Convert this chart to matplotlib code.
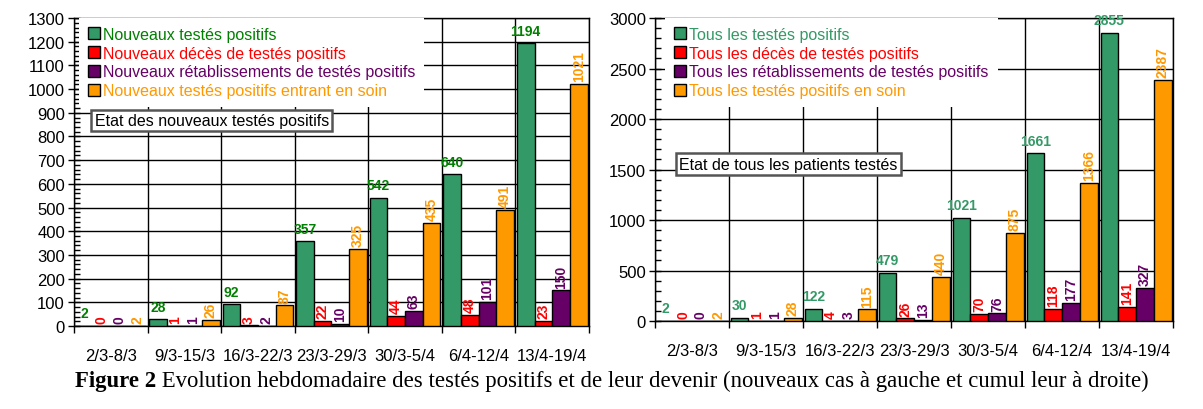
import matplotlib
matplotlib.use("Agg")
import matplotlib.pyplot as plt
import numpy as np
from matplotlib.ticker import MultipleLocator, FixedLocator

# Semaines
semaines = ["2/3-8/3", "9/3-15/3", "16/3-22/3", "23/3-29/3", "30/3-5/4", "6/4-12/4", "13/4-19/4"]

# Nouveaux cas (gauche)
nouv_positifs = [2, 28, 92, 357, 542, 640, 1194]
nouv_deces = [0, 1, 3, 22, 44, 48, 23]
nouv_retablis = [0, 1, 2, 10, 63, 101, 150]
nouv_soin = [2, 26, 87, 325, 435, 491, 1021]

# Cumul (droite)
tous_positifs = [2, 30, 122, 479, 1021, 1661, 2855]
tous_deces = [0, 1, 4, 26, 70, 118, 141]
tous_retablis = [0, 1, 3, 13, 76, 177, 327]
tous_soin = [2, 28, 115, 440, 875, 1366, 2387]

noms_gauche = ["Nouveaux testés positifs", "Nouveaux décès de testés positifs",
               "Nouveaux rétablissements de testés positifs",
               "Nouveaux testés positifs entrant en soin"]
noms_droite = ["Tous les testés positifs", "Tous les décès de testés positifs",
               "Tous les rétablissements de testés positifs",
               "Tous les testés positifs en soin"]

couleurs = ["#339966", "#FF0000", "#660066", "#FF9900"]

plt.rcParams['font.family'] = ['Liberation Sans']
NARROW = ['Liberation Sans Narrow', 'Liberation Sans']

fig = plt.figure(figsize=(12.03, 4.10), dpi=100)
ax1 = fig.add_axes([0.0615, 0.2024, 0.4281, 0.7512])
ax2 = fig.add_axes([0.5445, 0.2146, 0.4306, 0.739])


def tracer(ax, series, noms, couleurs_txt, ymax, major, minor, titre, pos_titre, leg_x):
    x = np.arange(len(semaines))
    w = 0.24
    for i, (vals, nom) in enumerate(zip(series, noms)):
        xs = x + (i - 1.5) * w
        ax.bar(xs, vals, width=w, color=couleurs[i], edgecolor='black',
               linewidth=1, label=nom, zorder=3)
        for xi, v in zip(xs, vals):
            if i == 0:
                ax.annotate(str(v), (xi, v), xytext=(0, 4), textcoords='offset points',
                            ha='center', va='bottom', fontsize=10, fontweight='bold',
                            color=couleurs_txt[0], family=NARROW, zorder=4)
            else:
                ax.annotate(str(v), (xi, v), xytext=(0, 2), textcoords='offset points',
                            ha='center', va='bottom', rotation=90, fontsize=10,
                            fontweight='bold', color=couleurs_txt[i], family=NARROW,
                            zorder=4)
    ax.set_xlim(-0.5, len(semaines) - 0.5)
    ax.set_ylim(0, ymax)
    ax.yaxis.set_major_locator(MultipleLocator(major))
    ax.yaxis.set_minor_locator(MultipleLocator(minor))
    ax.set_xticks(x)
    ax.set_xticklabels(semaines, fontsize=12)
    ax.xaxis.set_minor_locator(FixedLocator(np.arange(-0.5, len(semaines), 1.0)))
    ax.tick_params(axis='x', which='major', length=0, pad=16)
    ax.tick_params(axis='x', which='minor', length=5, direction='out', width=1)
    ax.tick_params(axis='y', which='major', length=9, direction='inout', width=1,
                   labelsize=12, pad=2)
    ax.tick_params(axis='y', which='minor', length=4, direction='in', width=1)
    ax.grid(True, axis='y', which='major', color='black', linewidth=1, zorder=0)
    ax.grid(True, axis='x', which='minor', color='black', linewidth=1, zorder=0)
    ax.set_axisbelow(True)
    for s in ax.spines.values():
        s.set_linewidth(1)

    leg = ax.legend(loc='upper left', bbox_to_anchor=(leg_x, 1.0), frameon=True,
                    fontsize=11.5, handlelength=0.75, handleheight=0.75,
                    handletextpad=0.2, labelspacing=0.24, borderpad=0.55,
                    borderaxespad=0.0, fancybox=False)
    leg.get_frame().set_facecolor('white')
    leg.get_frame().set_edgecolor('none')
    leg.get_frame().set_alpha(1)
    leg.set_zorder(5)
    for t, c in zip(leg.get_texts(), couleurs_txt):
        t.set_color(c)

    ax.text(pos_titre[0], pos_titre[1], titre, transform=ax.transAxes, fontsize=11.5,
            ha='left', va='center', zorder=6,
            bbox=dict(boxstyle='square,pad=0.2', facecolor='white',
                      edgecolor='#555555', linewidth=1.8))


tracer(ax1, [nouv_positifs, nouv_deces, nouv_retablis, nouv_soin], noms_gauche,
       ["#008000", "#FF0000", "#660066", "#FF9900"], 1300, 100, 20,
       "Etat des nouveaux testés positifs", (0.04, 0.668), 0.01)
tracer(ax2, [tous_positifs, tous_deces, tous_retablis, tous_soin], noms_droite,
       ["#339966", "#FF0000", "#660066", "#FF9900"], 3000, 500, 100,
       "Etat de tous les patients testés", (0.047, 0.518), 0.02)

# Légende de la figure : "Figure 2" en gras puis le reste
y_leg = 1 - 387 / 410
t1 = fig.text(75 / 1203, y_leg, "Figure 2", fontsize=16.4, fontweight='bold',
              family='Liberation Serif', ha='left', va='baseline')
fig.canvas.draw()
bb = t1.get_window_extent()
fig.text(bb.x1 / fig.bbox.width, y_leg,
         " Evolution hebdomadaire des testés positifs et de leur devenir "
         "(nouveaux cas à gauche et cumul leur à droite)", fontsize=16.4,
         family='Liberation Serif', ha='left', va='baseline')

fig.savefig("out.png", dpi=100)
